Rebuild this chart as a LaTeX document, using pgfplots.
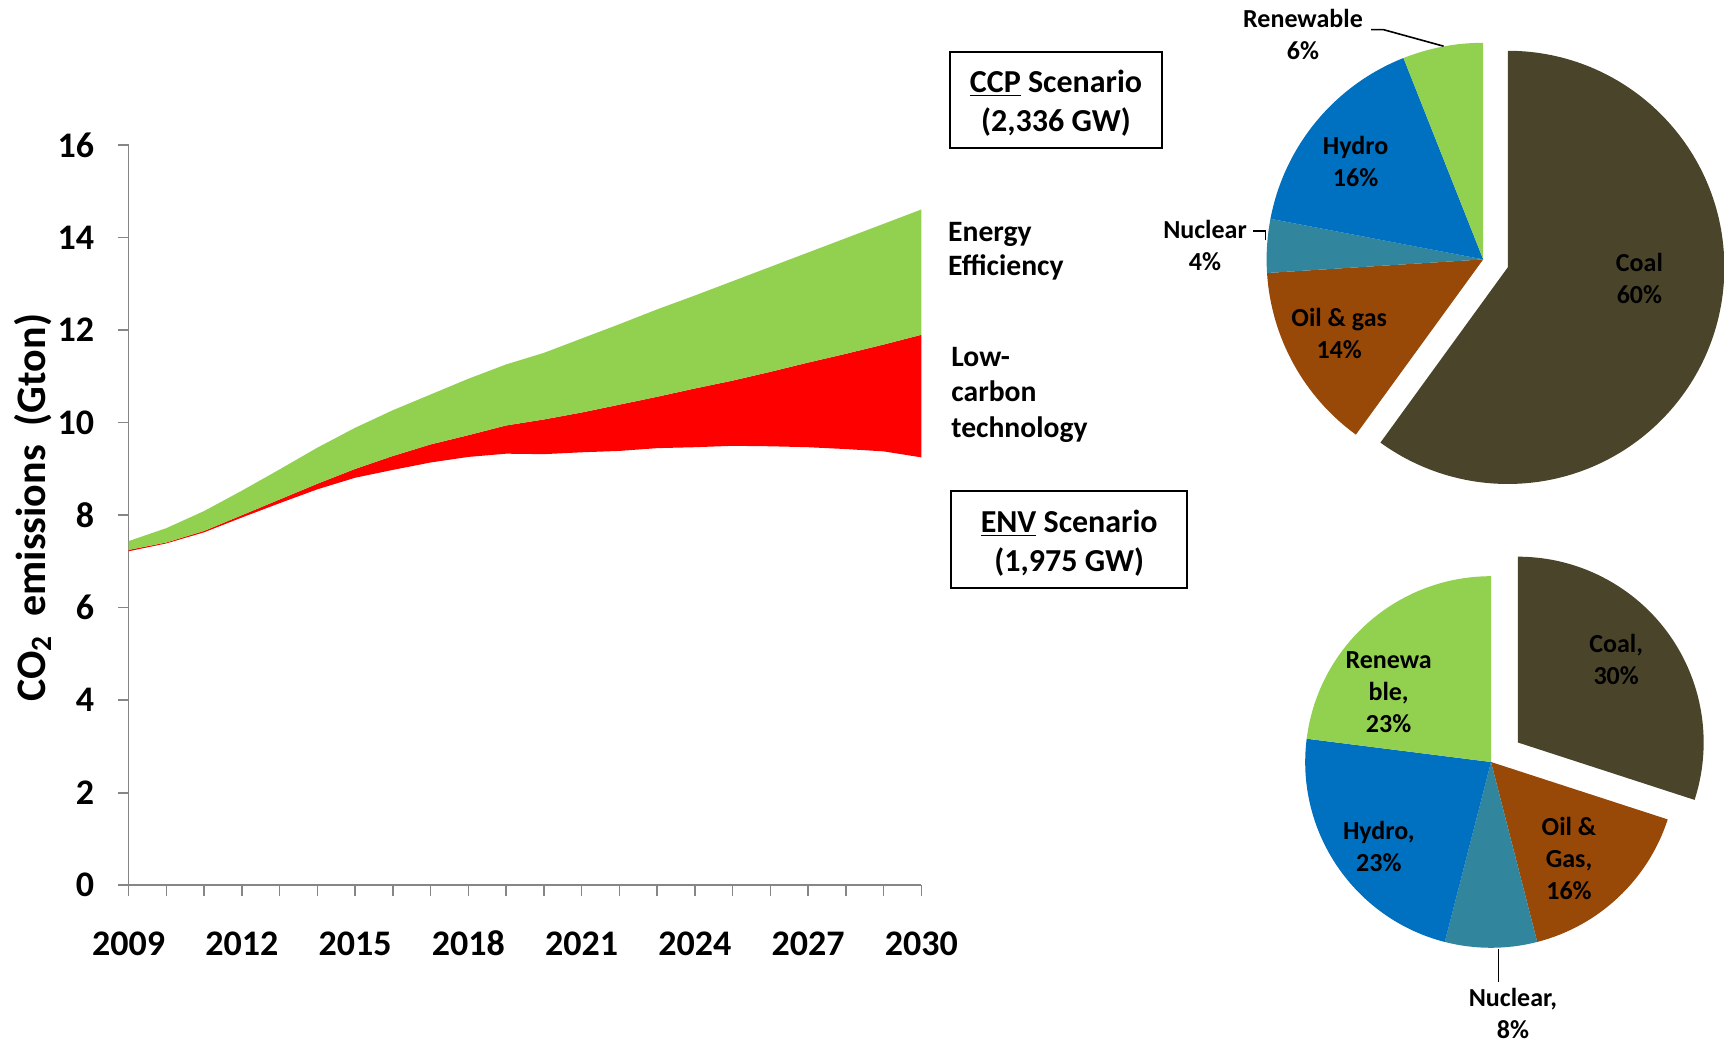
\documentclass[border=0pt]{standalone}
\usepackage{fontspec}
\setmainfont{Carlito}
\usepackage{pgfplots}
\pgfplotsset{compat=1.18}
\usepgfplotslibrary{fillbetween}

\definecolor{effgreen}{HTML}{92D050}
\definecolor{lcred}{HTML}{FF0000}
\definecolor{coal}{HTML}{4A452A}
\definecolor{oilgas}{HTML}{984807}
\definecolor{nuclear}{HTML}{31859C}
\definecolor{hydro}{HTML}{0070C0}
\definecolor{renew}{HTML}{92D050}
\definecolor{axisgray}{HTML}{868686}

% pie: centre, radius, explode distance (pt), slices value/colour/exploded
\newcommand\drawpie[4]{%
  \xdef\pieangle{90}%
  \foreach \v/\col/\e in {#4}{%
    \pgfmathsetmacro\pieend{\pieangle-3.6*\v}%
    \pgfmathsetmacro\piemid{(\pieangle+\pieend)/2}%
    \pgfmathsetmacro\pieoff{\e*#3}%
    \fill[\col, shift={#1}, shift={(\piemid:\pieoff pt)}] (0,0) -- (\pieangle:#2)
      arc[start angle=\pieangle, end angle=\pieend, radius=#2] -- cycle;
    \xdef\pieangle{\pieend}%
  }%
}

\begin{document}
\begin{tikzpicture}[font=\bfseries]

\begin{axis}[
  at={(64.3pt,-442.6pt)}, anchor=south west,
  scale only axis, width=396.4pt, height=370pt,
  xmin=2009, xmax=2030, ymin=0, ymax=16,
  axis lines=left, axis line style={axisgray, line width=0.8pt, -},
  tick style={axisgray, line width=0.8pt},
  tick align=outside, major tick length=5.5pt, minor tick length=5.5pt,
  xtick={2009,2012,...,2030}, minor xtick={2009,...,2030},
  ytick={0,2,...,16},
  /pgf/number format/assume math mode=true,
  /pgf/number format/1000 sep={},
  ticklabel style={font=\fontsize{18}{22}\selectfont\bfseries},
  xticklabel style={text height=12.5pt, text depth=0pt, yshift=-13.4pt},
  yticklabel style={xshift=-8.2pt},
  ylabel={CO\textsubscript{2}\ \ emissions\ \ (Gton)},
  ylabel style={font=\fontsize{21}{25}\selectfont\bfseries,
    at={(axis description cs:-0.1206,0.51)}, anchor=center},
]
% CO2 with all measures (lower edge of the red band)
\addplot[draw=none, name path=low] coordinates {
 (2009,7.22) (2010,7.39) (2011,7.63) (2012,7.95) (2013,8.26) (2014,8.56)
 (2015,8.81) (2016,8.98) (2017,9.14) (2018,9.26) (2019,9.33) (2020,9.32)
 (2021,9.36) (2022,9.39) (2023,9.45) (2024,9.47) (2025,9.50) (2026,9.49)
 (2027,9.47) (2028,9.43) (2029,9.38) (2030,9.25)};
% after energy efficiency only
\addplot[draw=none, name path=mid] coordinates {
 (2009,7.25) (2010,7.41) (2011,7.66) (2012,8.00) (2013,8.34) (2014,8.68)
 (2015,9.00) (2016,9.28) (2017,9.53) (2018,9.73) (2019,9.94) (2020,10.07)
 (2021,10.22) (2022,10.39) (2023,10.56) (2024,10.74) (2025,10.91) (2026,11.10)
 (2027,11.30) (2028,11.49) (2029,11.69) (2030,11.90)};
% baseline
\addplot[draw=none, name path=high] coordinates {
 (2009,7.44) (2010,7.72) (2011,8.09) (2012,8.53) (2013,8.99) (2014,9.46)
 (2015,9.89) (2016,10.27) (2017,10.61) (2018,10.95) (2019,11.26) (2020,11.51)
 (2021,11.82) (2022,12.13) (2023,12.45) (2024,12.75) (2025,13.06) (2026,13.37)
 (2027,13.68) (2028,13.99) (2029,14.30) (2030,14.61)};
\addplot[lcred, draw=none] fill between[of=mid and low];
\addplot[effgreen, draw=none] fill between[of=high and mid];
\end{axis}

% labels beside the area chart
\node[anchor=west, align=left, inner sep=0, font=\fontsize{14.8}{17.3}\selectfont\bfseries]
  at (473.9pt,-125.6pt) {Energy\\Efficiency};
\node[anchor=west, align=left, inner sep=0, font=\fontsize{14.8}{17.6}\selectfont\bfseries]
  at (475.5pt,-197.4pt) {Low-\\carbon\\technology};

% scenario boxes
\draw[line width=1pt] (475pt,-25.8pt) rectangle (581pt,-74.2pt);
\node[align=center, font=\fontsize{16}{19.2}\selectfont\bfseries] at (528pt,-51.6pt)
  {\underline{CCP} Scenario\\(2,336 GW)};
\draw[line width=1pt] (475.5pt,-245.7pt) rectangle (593.7pt,-294.1pt);
\node[align=center, font=\fontsize{16}{19.2}\selectfont\bfseries] at (534.6pt,-271.5pt)
  {\underline{ENV} Scenario\\(1,975 GW)};

% CCP pie
\drawpie{(741.6pt,-129.7pt)}{108.3pt}{12.9}
  {60/coal/1, 14/oilgas/0, 4/nuclear/0, 16/hydro/0, 6/renew/0}
% ENV pie
\drawpie{(745.5pt,-381pt)}{92.9pt}{16.6}
  {30/coal/1, 16/oilgas/0, 8/nuclear/0, 23/hydro/0, 23/renew/0}

\begin{scope}[every node/.style={align=center, inner sep=0,
    font=\fontsize{13}{16}\selectfont\bfseries}]
\node at (819.7pt,-139.1pt) {Coal\\60\%};
\node at (669.6pt,-166.6pt) {Oil \& gas\\14\%};
\node at (677.8pt,-80.8pt) {Hydro\\16\%};
\node at (602.5pt,-122.8pt) {Nuclear\\4\%};
\node at (651.5pt,-17pt) {Renewable\\6\%};
\node at (808.1pt,-329.9pt) {Coal,\\30\%};
\node at (784.5pt,-429.4pt) {Oil \&\\Gas,\\16\%};
\node at (689.4pt,-423.3pt) {Hydro,\\23\%};
\node at (694.3pt,-346.3pt) {Renewa\\ble,\\23\%};
\node at (756.5pt,-506.9pt) {Nuclear,\\8\%};
\end{scope}
\draw[line width=0.8pt] (626.7pt,-115.4pt) -- (632.8pt,-115.4pt) -- (632.8pt,-119.8pt);
\draw[line width=0.8pt] (685.5pt,-14.8pt) -- (691.6pt,-14.8pt) -- (721.8pt,-23.1pt);
\draw[line width=0.8pt] (749.3pt,-474.4pt) -- (749.3pt,-490.9pt);

\pgfresetboundingbox
\useasboundingbox (0,0) rectangle (862pt,-521pt);
\end{tikzpicture}
\end{document}
